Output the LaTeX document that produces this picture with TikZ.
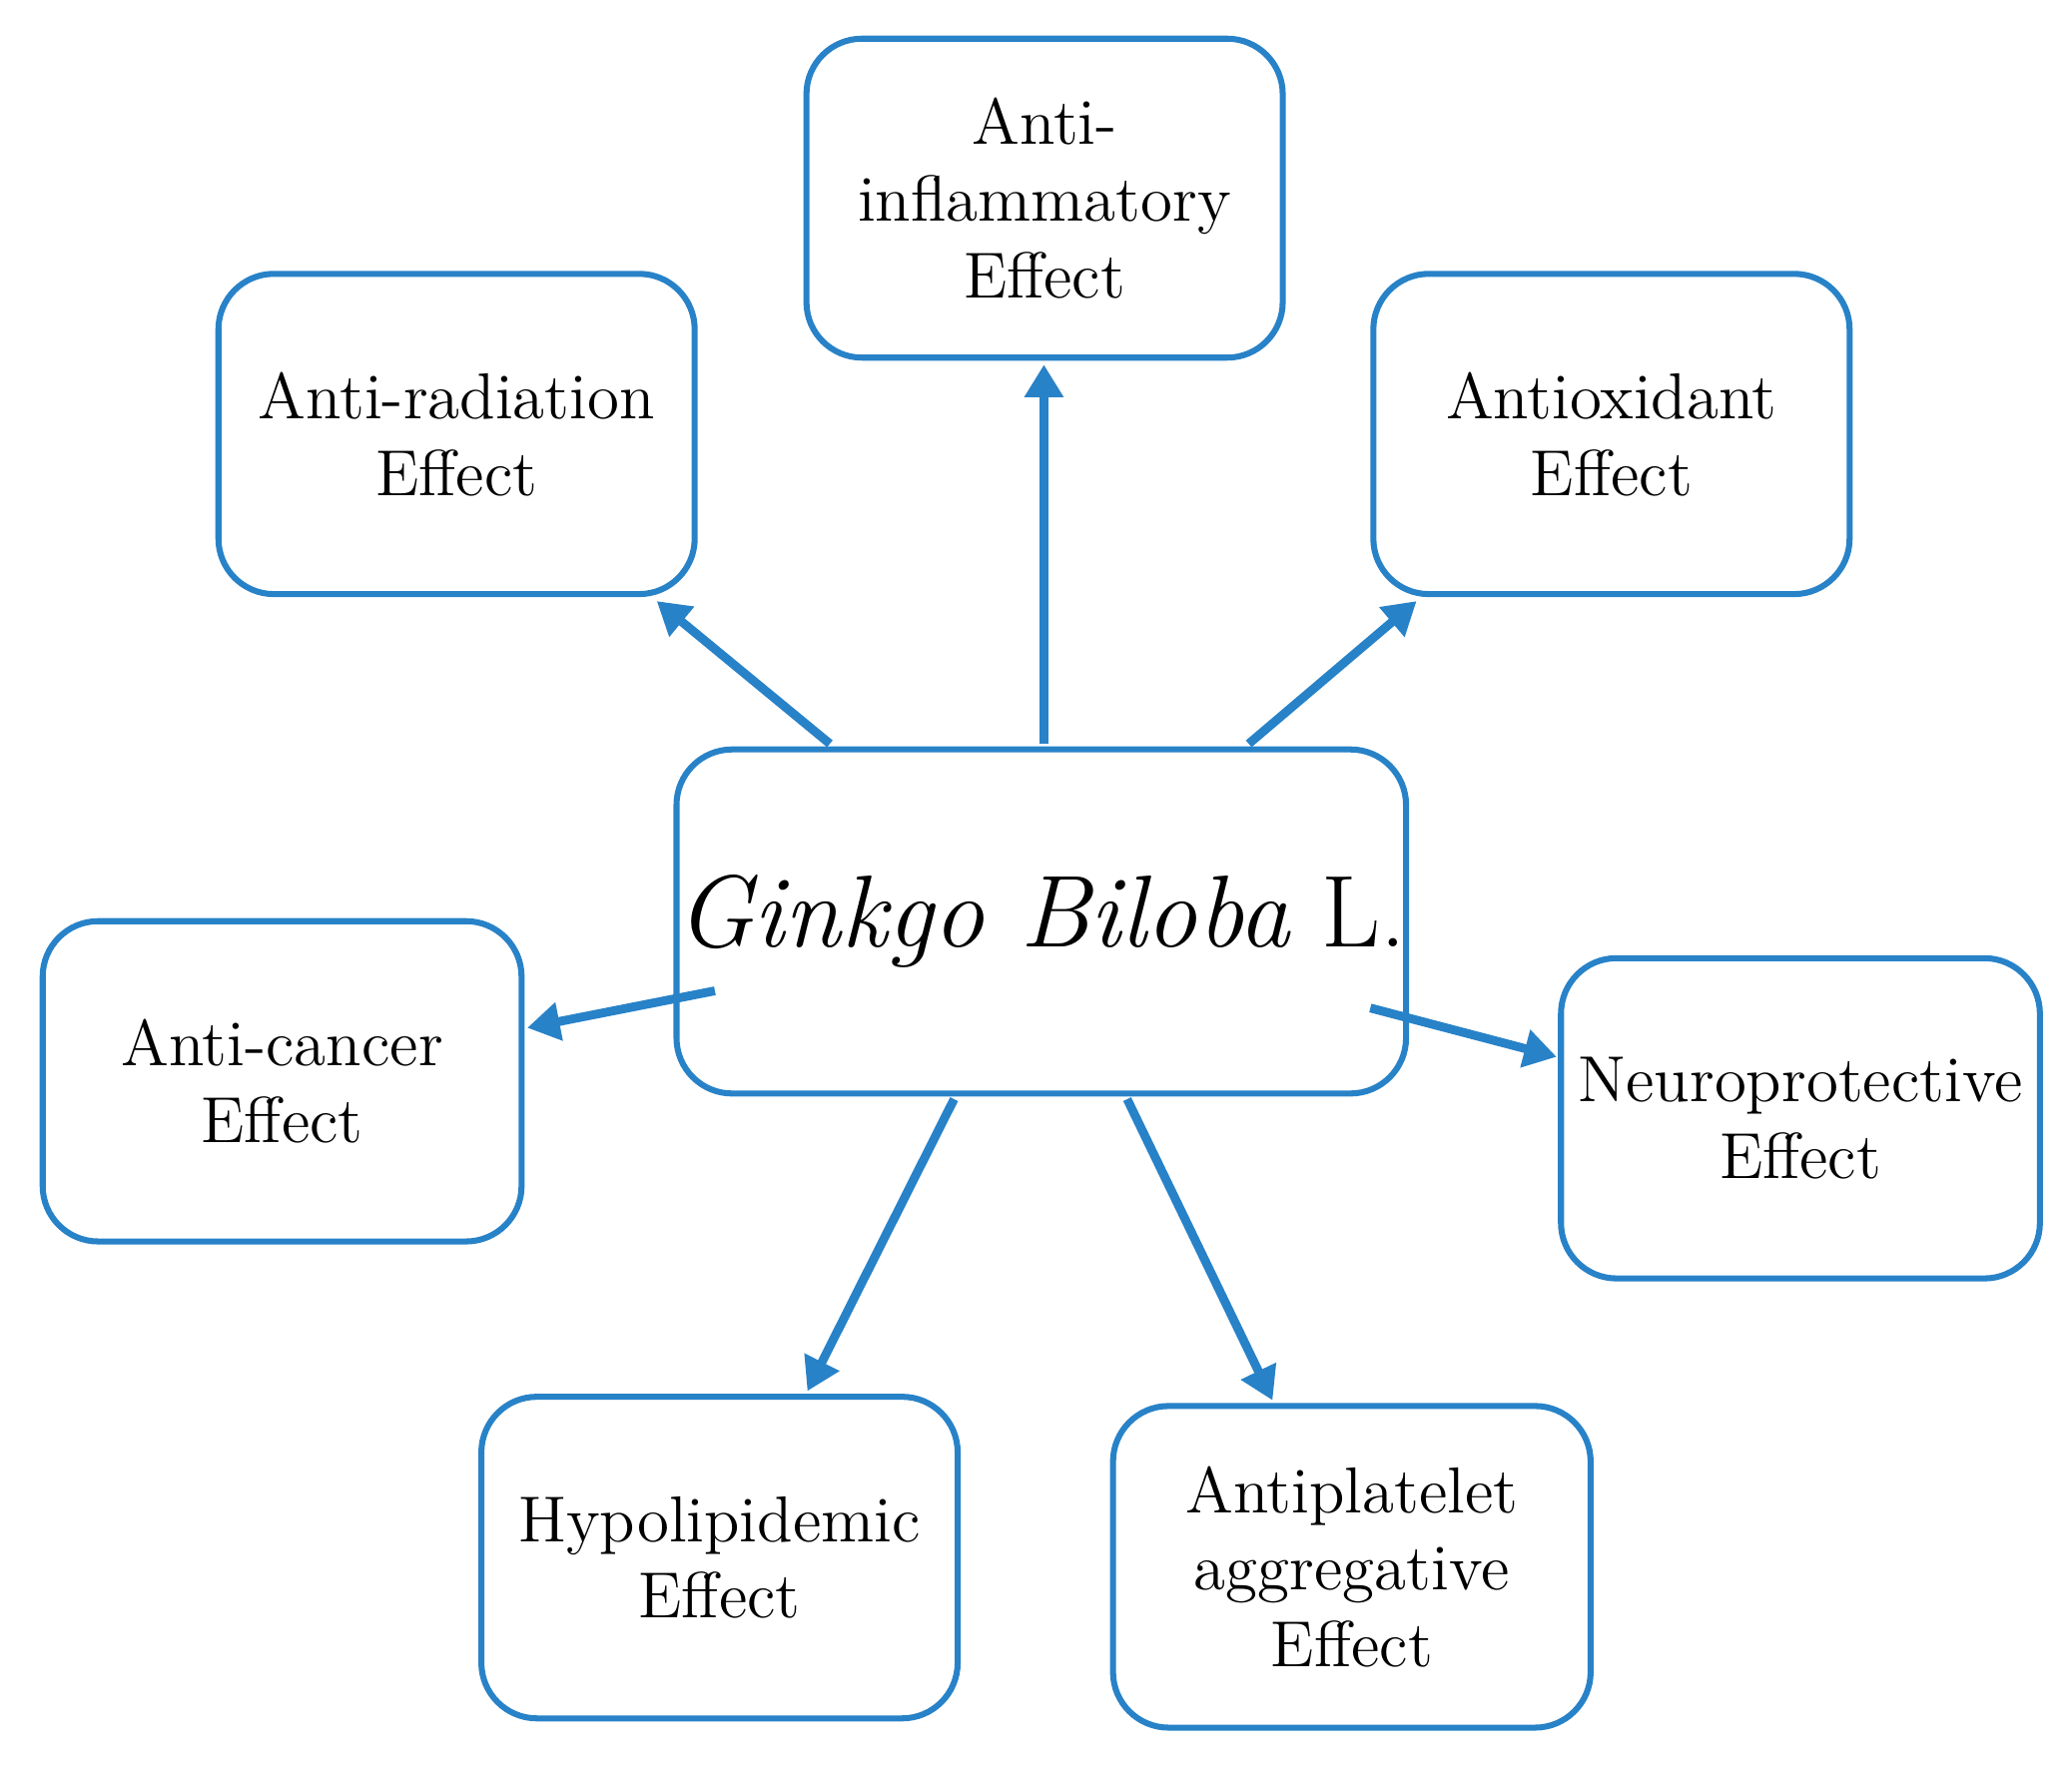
\documentclass[tikz,border=0pt]{standalone}
\usetikzlibrary{arrows.meta}
\begin{document}
\definecolor{bl}{RGB}{40,130,200}
\begin{tikzpicture}[x=0.01cm,y=-0.01cm,
 box/.style={draw=bl,line width=1.3pt,rounded corners=0.42cm,align=center,font=\fontsize{14}{16.5}\selectfont,inner sep=0pt},
 arr/.style={draw=bl,line width=1.9pt,-{Triangle[length=7pt,width=8pt]}}]
\useasboundingbox (0,0) rectangle (1568,1340);
\def\bx#1#2#3#4#5#6{\node[box,minimum width=#4*0.01cm-1.3pt,minimum height=#5*0.01cm-1.3pt] (#1) at (#2,#3) {#6};}
\bx{inf}{790.5}{150}{365}{246}{Anti-\\inflammatory\\Effect}
\bx{rad}{345.5}{328.5}{365}{247}{Anti-radiation\\Effect}
\bx{oxi}{1219.5}{328.5}{365}{247}{Antioxidant\\Effect}
\node[box,minimum width=494*0.01cm-1.3pt,minimum height=265*0.01cm-1.3pt,font=\fontsize{22}{26}\selectfont] (c) at (788,697.5) {\textit{Ginkgo Biloba} L.};
\bx{can}{213.5}{818.5}{367}{247}{Anti-cancer\\Effect}
\bx{neu}{1362.5}{846.5}{367}{247}{Neuroprotective\\Effect}
\bx{hyp}{544.5}{1179}{365}{248}{Hypolipidemic\\Effect}
\bx{pla}{1023}{1186}{366}{248}{Antiplatelet\\aggregative\\Effect}
\coordinate (s1) at (628,563); \coordinate (e1) at (497,455);
\coordinate (s2) at (790,563); \coordinate (e2) at (790,276);
\coordinate (s3) at (945,563); \coordinate (e3) at (1072,455);
\coordinate (s4) at (541,750); \coordinate (e4) at (399,778);
\coordinate (s5) at (1037,763); \coordinate (e5) at (1178,800);
\coordinate (s6) at (722,832); \coordinate (e6) at (611,1053);
\coordinate (s7) at (853,832); \coordinate (e7) at (963,1060);
\foreach \i in {1,...,7}{\draw[arr] (s\i) -- (e\i);}
\end{tikzpicture}
\end{document}
